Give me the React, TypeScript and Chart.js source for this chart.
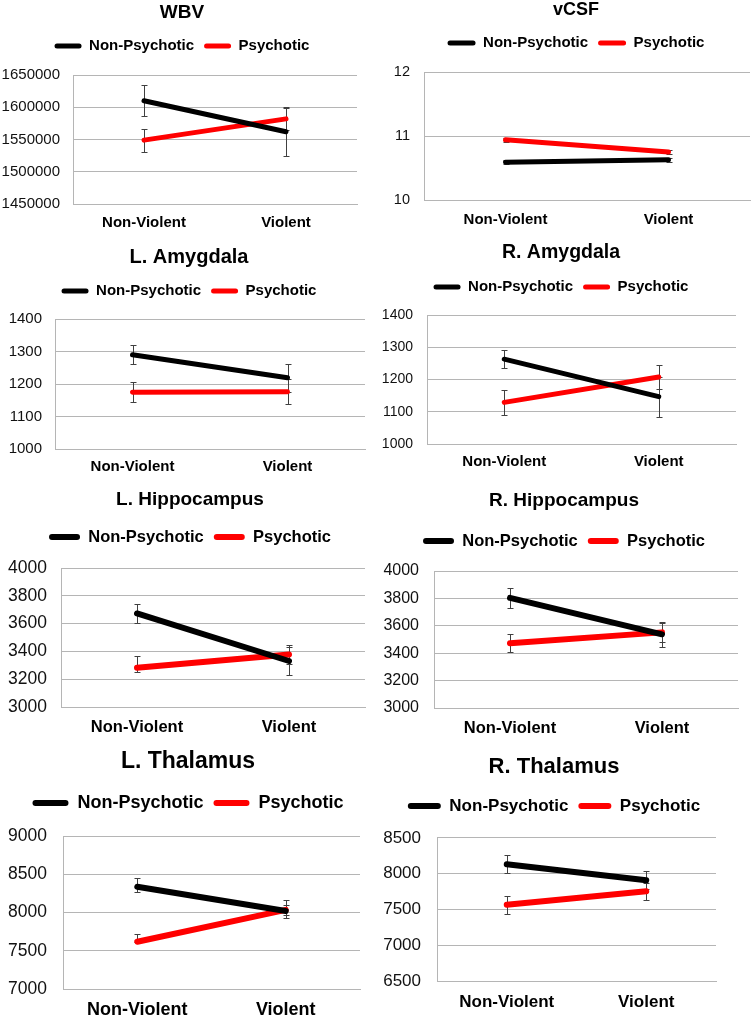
import React, { useEffect, useRef } from "react";
import { Chart, registerables } from "chart.js";

Chart.register(...registerables);

// ---------- data ----------
const categories = ["Non-Violent", "Violent"];
const seriesNames = ["Non-Psychotic", "Psychotic"];

// error values are [plus, minus]
const wbvNonPsychotic = [1610000, 1562000];
const wbvNonPsychoticErr = [[24000, 24000], [37000, 37000]];
const wbvPsychotic = [1549000, 1582000];
const wbvPsychoticErr = [[18000, 18000], [18000, 18000]];
const wbvAxis = [1450000, 1650000, 50000];

const vcsfNonPsychotic = [10.59, 10.63];
const vcsfNonPsychoticErr = [[0.03, 0.03], [0.03, 0.03]];
const vcsfPsychotic = [10.94, 10.75];
const vcsfPsychoticErr = [[0.03, 0.03], [0.03, 0.03]];
const vcsfAxis = [10, 12, 1];

const lAmygNonPsychotic = [1290, 1219];
const lAmygNonPsychoticErr = [[29, 29], [43, 43]];
const lAmygPsychotic = [1175, 1176];
const lAmygPsychoticErr = [[30, 30], [38, 38]];
const lAmygAxis = [1000, 1400, 100];

const rAmygNonPsychotic = [1263, 1147];
const rAmygNonPsychoticErr = [[28, 28], [62, 62]];
const rAmygPsychotic = [1129, 1208];
const rAmygPsychoticErr = [[39, 39], [37, 37]];
const rAmygAxis = [1000, 1400, 100];

const lHippoNonPsychotic = [3673, 3331];
const lHippoNonPsychoticErr = [[71, 71], [98, 98]];
const lHippoPsychotic = [3283, 3378];
const lHippoPsychoticErr = [[86, 31], [70, 70]];
const lHippoAxis = [3000, 4000, 200];

const rHippoNonPsychotic = [3804, 3538];
const rHippoNonPsychoticErr = [[72, 72], [90, 90]];
const rHippoPsychotic = [3472, 3552];
const rHippoPsychoticErr = [[65, 65], [70, 70]];
const rHippoAxis = [3000, 4000, 200];

const lThalNonPsychotic = [8337, 8020];
const lThalNonPsychoticErr = [[110, 64], [148, 95]];
const lThalPsychotic = [7618, 8035];
const lThalPsychoticErr = [[95, 8], [63, 63]];
const lThalAxis = [7000, 9000, 500];

const rThalNonPsychotic = [8132, 7908];
const rThalNonPsychoticErr = [[126, 126], [126, 126]];
const rThalPsychotic = [7566, 7755];
const rThalPsychoticErr = [[128, 128], [122, 122]];
const rThalAxis = [6500, 8500, 500];

// ---------- panels (data + layout) ----------
type Geo = {
  col: number; cx: number; C: number; L: number; T: number; B: number; X: number;
  plotL: number; plotR: number; tfs: number; lfs: number; tickfs: number; xfs: number;
  tickRight: number; boxW: number; lineW: number;
};

type PanelSpec = {
  title: string;
  np: number[]; npErr: number[][];
  ps: number[]; psErr: number[][];
  axis: number[];
  geo: Geo;
};

const panels: PanelSpec[] = [
  { title: "WBV", np: wbvNonPsychotic, npErr: wbvNonPsychoticErr, ps: wbvPsychotic, psErr: wbvPsychoticErr, axis: wbvAxis,
    geo: { col: 0, cx: 182, C: 13, L: 46, T: 75, B: 204, X: 223, plotL: 73, plotR: 357, tfs: 19, lfs: 15, tickfs: 15, xfs: 15, tickRight: 60, boxW: 27, lineW: 5 } },
  { title: "vCSF", np: vcsfNonPsychotic, npErr: vcsfNonPsychoticErr, ps: vcsfPsychotic, psErr: vcsfPsychoticErr, axis: vcsfAxis,
    geo: { col: 1, cx: 576, C: 10, L: 43, T: 72, B: 200, X: 220, plotL: 424, plotR: 750, tfs: 18, lfs: 15, tickfs: 14.5, xfs: 15, tickRight: 410, boxW: 28, lineW: 5 } },
  { title: "L. Amygdala", np: lAmygNonPsychotic, npErr: lAmygNonPsychoticErr, ps: lAmygPsychotic, psErr: lAmygPsychoticErr, axis: lAmygAxis,
    geo: { col: 0, cx: 189, C: 257, L: 291, T: 319, B: 449, X: 467, plotL: 55, plotR: 365, tfs: 20, lfs: 15, tickfs: 15, xfs: 15, tickRight: 42, boxW: 27, lineW: 5 } },
  { title: "R. Amygdala", np: rAmygNonPsychotic, npErr: rAmygNonPsychoticErr, ps: rAmygPsychotic, psErr: rAmygPsychoticErr, axis: rAmygAxis,
    geo: { col: 1, cx: 561, C: 253, L: 287, T: 315, B: 444, X: 462, plotL: 427, plotR: 736, tfs: 19.5, lfs: 15, tickfs: 14, xfs: 15, tickRight: 413, boxW: 27, lineW: 5 } },
  { title: "L. Hippocampus", np: lHippoNonPsychotic, npErr: lHippoNonPsychoticErr, ps: lHippoPsychotic, psErr: lHippoPsychoticErr, axis: lHippoAxis,
    geo: { col: 0, cx: 190, C: 500, L: 537, T: 568, B: 707, X: 727, plotL: 61, plotR: 365, tfs: 19, lfs: 16.5, tickfs: 17.5, xfs: 16.5, tickRight: 47, boxW: 31, lineW: 6 } },
  { title: "R. Hippocampus", np: rHippoNonPsychotic, npErr: rHippoNonPsychoticErr, ps: rHippoPsychotic, psErr: rHippoPsychoticErr, axis: rHippoAxis,
    geo: { col: 1, cx: 564, C: 501, L: 541, T: 571, B: 708, X: 728, plotL: 434, plotR: 738, tfs: 19, lfs: 16.5, tickfs: 16, xfs: 16.5, tickRight: 419, boxW: 31, lineW: 6 } },
  { title: "L. Thalamus", np: lThalNonPsychotic, npErr: lThalNonPsychoticErr, ps: lThalPsychotic, psErr: lThalPsychoticErr, axis: lThalAxis,
    geo: { col: 0, cx: 188, C: 762, L: 803, T: 836, B: 989, X: 1010, plotL: 63, plotR: 360, tfs: 23, lfs: 18, tickfs: 17.5, xfs: 18, tickRight: 47, boxW: 36, lineW: 6 } },
  { title: "R. Thalamus", np: rThalNonPsychotic, npErr: rThalNonPsychoticErr, ps: rThalPsychotic, psErr: rThalPsychoticErr, axis: rThalAxis,
    geo: { col: 1, cx: 554, C: 767, L: 806, T: 838, B: 981, X: 1002, plotL: 437, plotR: 716, tfs: 22, lfs: 17, tickfs: 17, xfs: 17, tickRight: 421, boxW: 33, lineW: 6 } },
];

const FONT = "'Liberation Sans', Arial, sans-serif";
const GRID = "#b5b5b5";
const COLORS = ["#000000", "#ff0000"];

const errorBarPlugin = {
  id: "errorBars",
  beforeDatasetsDraw(chart: any) {
    const ctx = chart.ctx;
    const yScale = chart.scales.y;
    ctx.save();
    ctx.strokeStyle = "#404040";
    ctx.lineWidth = 1;
    chart.data.datasets.forEach((ds: any, di: number) => {
      const meta = chart.getDatasetMeta(di);
      (ds.errorBars || []).forEach((e: number[], i: number) => {
        const v = ds.data[i];
        const pt = meta.data[i];
        if (!pt) return;
        const x = Math.round(pt.x) + 0.5;
        const yTop = Math.round(yScale.getPixelForValue(v + e[0])) + 0.5;
        const yBot = Math.round(yScale.getPixelForValue(v - e[1])) + 0.5;
        ctx.beginPath();
        ctx.moveTo(x, yTop);
        ctx.lineTo(x, yBot);
        ctx.moveTo(x - 3, yTop);
        ctx.lineTo(x + 3, yTop);
        ctx.moveTo(x - 3, yBot);
        ctx.lineTo(x + 3, yBot);
        ctx.stroke();
      });
    });
    ctx.restore();
  },
};

function Panel({ spec }: { spec: PanelSpec }) {
  const ref = useRef<HTMLCanvasElement>(null);
  const g = spec.geo;
  const W = 376;
  const x0 = g.col * 376;
  const Pr = x0 + W - g.plotR;
  const yAxisW = g.plotL - x0;
  const centerShift = (g.cx - x0) - (W - Pr) / 2;
  const tickPad = g.plotL - g.tickRight;
  const y0 = Math.round(g.C - 0.6 * g.tfs - 4);
  const tPadTop = g.C - 0.6 * g.tfs - y0;
  const legendTop = g.L - 10 - g.lfs / 2;
  const tPadBottom = legendTop - (g.C + 0.6 * g.tfs);
  const extra = g.T - (legendTop + g.lfs + 20);
  const xPad = g.X - g.B - 0.6 * g.xfs;
  const H = Math.ceil(g.X + 0.6 * g.xfs + 4 - y0);
  const xAxisH = H - (g.B - y0);

  useEffect(() => {
    if (!ref.current) return;
    const legendGap = {
      id: "legendGap",
      beforeLayout(chart: any) {
        const lg = chart.legend;
        if (lg && !lg._gapPatched) {
          const orig = lg.fit;
          lg.fit = function () {
            orig.call(this);
            this.height += extra;
          };
          lg._gapPatched = true;
        }
      },
      afterLayout(chart: any) {
        const boxes = [chart.titleBlock, chart.legend];
        boxes.forEach((b: any) => {
          if (!b) return;
          b.left += centerShift;
          b.right += centerShift;
        });
      },
    };
    const mk = (label: string, data: number[], err: number[][], color: string) => ({
      label,
      data,
      errorBars: err,
      borderColor: color,
      backgroundColor: color,
      borderWidth: g.lineW,
      borderCapStyle: "round",
      pointRadius: 0,
      pointHoverRadius: 0,
      tension: 0,
    });
    const chart = new Chart(ref.current, {
      type: "line",
      data: {
        labels: categories,
        datasets: [
          mk(seriesNames[0], spec.np, spec.npErr, COLORS[0]),
          mk(seriesNames[1], spec.ps, spec.psErr, COLORS[1]),
        ] as any,
      },
      options: {
        responsive: false,
        animation: false,
        devicePixelRatio: 1,
        events: [],
        layout: { padding: { left: 0, right: Pr, top: 0, bottom: 0 } },
        plugins: {
          tooltip: { enabled: false },
          title: {
            display: true,
            text: spec.title,
            color: "#000",
            font: { family: FONT, size: g.tfs, weight: "bold" },
            padding: { top: tPadTop, bottom: tPadBottom },
          },
          legend: {
            display: true,
            position: "top",
            labels: {
              boxWidth: g.boxW,
              boxHeight: g.lineW,
              padding: 10,
              color: "#000",
              useBorderRadius: true,
              borderRadius: g.lineW / 2,
              font: { family: FONT, size: g.lfs, weight: "bold" },
              generateLabels: (c: any) =>
                (Chart.defaults.plugins.legend.labels.generateLabels as any)(c).map((l: any) => ({
                  ...l,
                  lineWidth: 0,
                })),
            },
          },
        },
        scales: {
          x: {
            offset: true,
            grid: { display: false, drawTicks: false },
            border: { display: true, color: GRID, width: 1 },
            ticks: { padding: xPad, color: "#000", font: { family: FONT, size: g.xfs, weight: "bold" }, maxRotation: 0 },
            afterFit: (s: any) => {
              s.height = xAxisH;
            },
          },
          y: {
            min: spec.axis[0],
            max: spec.axis[1],
            grid: { color: GRID, drawTicks: false, lineWidth: 1 },
            border: { display: true, color: GRID, width: 1 },
            ticks: {
              stepSize: spec.axis[2],
              padding: tickPad,
              color: "#111",
              font: { family: FONT, size: g.tickfs },
              callback: (v: any) => String(v),
            },
            afterFit: (s: any) => {
              s.width = yAxisW;
            },
          },
        },
      } as any,
      plugins: [errorBarPlugin as any, legendGap as any],
    });
    return () => chart.destroy();
  }, []);

  return (
    <canvas
      ref={ref}
      width={W}
      height={H}
      style={{ position: "absolute", left: x0, top: y0, width: W, height: H, display: "block" }}
    />
  );
}

export default function App() {
  return (
    <div
      style={{
        position: "absolute",
        left: 0,
        top: 0,
        width: 752,
        height: 1018,
        overflow: "hidden",
        background: "#fff",
      }}
    >
      {panels.map((p) => (
        <Panel key={p.title} spec={p} />
      ))}
    </div>
  );
}
